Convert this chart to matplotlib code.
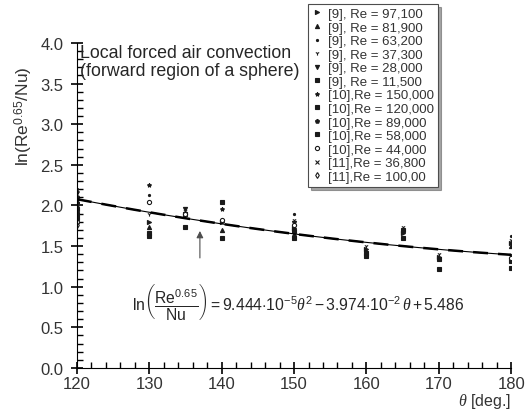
import numpy as np
import matplotlib
matplotlib.use("Agg")
import matplotlib.pyplot as plt
from matplotlib.ticker import MultipleLocator

plt.rcParams['font.family'] = ['Liberation Sans', 'DejaVu Sans']
plt.rcParams['mathtext.fontset'] = 'custom'
plt.rcParams['mathtext.rm'] = 'Liberation Sans'
plt.rcParams['mathtext.it'] = 'Liberation Serif:italic'
plt.rcParams['mathtext.bf'] = 'Liberation Sans:bold'

# angles where data were taken
theta = [120, 130, 135, 140, 150, 160, 165, 170, 180]
nan = np.nan

# ln(Re^0.65/Nu) per source / Reynolds number
labels = ["[9], Re = 97,100", "[9], Re = 81,900", "[9], Re = 63,200",
          "[9], Re = 37,300", "[9], Re = 28,000", "[9], Re = 11,500",
          "[10],Re = 150,000", "[10],Re = 120,000", "[10],Re = 89,000",
          "[10],Re = 58,000", "[10],Re = 44,000", "[11],Re = 36,800",
          "[11],Re = 100,00"]
s_97100 = [2.12, 1.80, nan, 1.80, 1.72, 1.47, 1.66, 1.37, 1.54]
s_81900 = [2.05, 1.74, nan, 1.70, 1.65, 1.44, nan, nan, 1.50]
s_63200 = [2.20, 2.13, nan, nan, 1.90, nan, nan, nan, 1.62]
s_37300 = [1.98, 1.90, 1.93, nan, 1.82, 1.50, 1.74, 1.40, 1.58]
s_28000 = [2.02, nan, 1.96, nan, 1.79, nan, nan, nan, 1.38]
s_11500 = [1.95, 1.66, 1.74, 1.60, 1.60, 1.38, 1.60, 1.22, 1.23]
s_150000 = [2.16, 2.25, nan, 1.95, nan, nan, nan, nan, nan]
s_120000 = [1.90, 1.62, 1.89, 2.04, 1.68, 1.41, 1.70, 1.34, 1.32]
s_89000 = [2.08, nan, nan, nan, nan, nan, nan, nan, nan]
s_58000 = [1.85, nan, nan, nan, nan, nan, nan, nan, nan]
s_44000 = [1.80, 2.04, 1.90, 1.82, 1.76, nan, nan, nan, 1.35]
s_36800 = [2.00, nan, nan, nan, nan, nan, nan, nan, nan]
s_100000 = [1.76, nan, nan, nan, nan, nan, nan, nan, nan]
series = [s_97100, s_81900, s_63200, s_37300, s_28000, s_11500, s_150000,
          s_120000, s_89000, s_58000, s_44000, s_36800, s_100000]

# fitted correlation coefficients (theta^2, theta, 1)
fit_coef = [9.444e-5, -3.974e-2, 5.486]

markers = ['>', '^', '.', '1', 'v', 's', '*', 's', 'p', 's', 'o', 'x', 'd']
filled = [True, True, True, True, True, True, True, True, True, True, False, True, False]

fig = plt.figure(figsize=(5.26, 4.10), dpi=100)
ax = fig.add_axes([0.146, 0.100, 0.826, 0.793])

for vals, lab, m, f in zip(series, labels, markers, filled):
    ax.plot(theta, vals, linestyle='none', marker=m, markersize=3.0,
            color='0.1', markerfacecolor='0.1' if f else 'white',
            markeredgewidth=0.8, label=lab)

# fitted curve
tt = np.linspace(120, 180, 200)
yy = np.polyval(fit_coef, tt)
ax.plot(tt, yy, color='k', lw=0.8)
ax.plot(tt, yy, color='k', lw=1.8, dashes=(6, 4))

ax.set_xlim(120, 180)
ax.set_ylim(0, 4.0)
ax.spines['top'].set_visible(False)
ax.spines['right'].set_visible(False)
ax.xaxis.set_major_locator(MultipleLocator(10))
ax.xaxis.set_minor_locator(MultipleLocator(2))
ax.yaxis.set_major_locator(MultipleLocator(0.5))
ax.yaxis.set_minor_locator(MultipleLocator(0.1))
ax.yaxis.set_major_formatter(plt.FormatStrFormatter('%.1f'))
ax.tick_params(which='major', direction='inout', length=9, width=1.2,
               labelsize=12, labelcolor='0.2')
ax.tick_params(axis='y', which='major', pad=5)
ax.tick_params(axis='x', which='major', pad=1)
ax.tick_params(which='minor', direction='in', length=4, width=1.0)

ax.set_xlabel(r'$\theta$ [deg.]', loc='right', fontsize=11.5, color='0.2', labelpad=0)
fig.text(0.045, 0.717, r'ln(Re$^{0.65}$/Nu)', rotation=90, ha='center', va='center',
         fontsize=12.5, color='0.2')

ax.text(120.5, 3.98, 'Local forced air convection\n(forward region of a sphere)',
        va='top', ha='left', fontsize=12.8, color='0.15', linespacing=1.05)

eq = (r'$\mathrm{ln}\left(\dfrac{\mathrm{Re}^{0.65}}{\mathrm{Nu}}\right) = '
      r'9.444{\cdot}10^{-5}\theta^2 - 3.974{\cdot}10^{-2}\,\theta + 5.486$')
ax.text(127.6, 0.82, eq, va='center', ha='left', fontsize=11.3, color='0.15')

ax.annotate('', xy=(137, 1.72), xytext=(137, 1.32),
            arrowprops=dict(arrowstyle='-|>', color='0.3', lw=0.8,
                            mutation_scale=10))

leg = ax.legend(loc='upper left', bbox_to_anchor=(0.586, 0.988),
                bbox_transform=fig.transFigure, fontsize=9.5, frameon=True,
                fancybox=False, shadow=True, handlelength=0.8,
                handletextpad=0.4, labelspacing=0.1, borderpad=0.3,
                borderaxespad=0)
leg.get_frame().set_edgecolor('0.3')
leg.get_frame().set_linewidth(0.8)
for t in leg.get_texts():
    t.set_color('0.2')

fig.savefig('out.png', dpi=100)
